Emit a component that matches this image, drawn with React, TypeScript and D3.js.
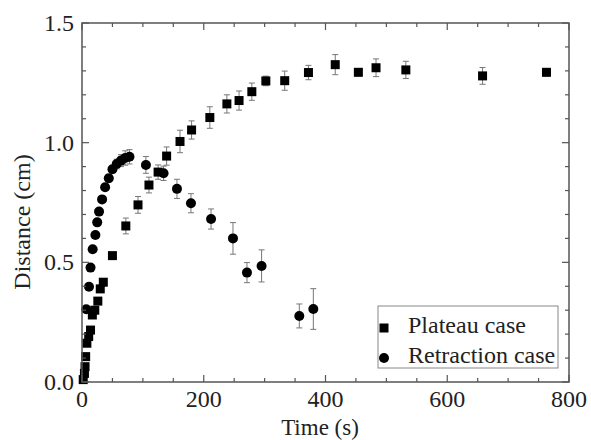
import React from "react";
import * as d3 from "d3";

const plateauTime = [2, 4, 5, 6, 8, 11, 14, 17, 21, 26, 30, 35, 50, 72, 92, 110, 125, 139, 161, 180, 210, 238, 258, 279, 302, 333, 372, 416, 454, 483, 532, 658, 763];
const plateauDist = [0.01, 0.036, 0.064, 0.106, 0.162, 0.19, 0.217, 0.28, 0.30, 0.338, 0.389, 0.417, 0.528, 0.652, 0.74, 0.823, 0.877, 0.944, 1.005, 1.053, 1.105, 1.162, 1.176, 1.213, 1.258, 1.259, 1.293, 1.326, 1.294, 1.313, 1.304, 1.279, 1.294];
const plateauErr = [0.01, 0.01, 0.01, 0.01, 0.01, 0.01, 0.01, 0.01, 0.01, 0.01, 0.015, 0.015, 0.01, 0.033, 0.035, 0.033, 0.03, 0.038, 0.047, 0.038, 0.045, 0.038, 0.04, 0.036, 0.02, 0.04, 0.03, 0.042, 0.015, 0.037, 0.036, 0.035, 0.015];

const retractTime = [7, 11.5, 14, 17.5, 22, 25, 28, 33, 38, 44, 50, 57, 64, 71, 78, 105, 134, 156, 179, 212, 248, 271, 295, 357, 380];
const retractDist = [0.304, 0.398, 0.478, 0.555, 0.614, 0.667, 0.712, 0.763, 0.814, 0.851, 0.889, 0.911, 0.925, 0.936, 0.941, 0.907, 0.872, 0.807, 0.747, 0.681, 0.6, 0.457, 0.485, 0.276, 0.305];
const retractErr = [0.01, 0.01, 0.01, 0.01, 0.01, 0.01, 0.01, 0.01, 0.01, 0.015, 0.015, 0.02, 0.025, 0.03, 0.03, 0.035, 0.03, 0.04, 0.04, 0.042, 0.066, 0.042, 0.067, 0.05, 0.085];

const xMajor = [0, 200, 400, 600, 800];
const yMajor = [0, 0.5, 1.0, 1.5];
const legendLabels = ["Plateau case", "Retraction case"];

const W = 591, H = 440;
const L = 82, R = 569, T = 23, B = 382;
const FONT = "Liberation Serif, Times New Roman, Times, DejaVu Serif, serif";

export default function App() {
  const x = d3.scaleLinear().domain([0, 800]).range([L, R]);
  const y = d3.scaleLinear().domain([0, 1.5]).range([B, T]);
  const xMinor = d3.range(0, 801, 50);
  const yMinor = d3.range(0, 16).map((i) => i / 10);
  const frame = "#555";
  const errColor = "#777";
  const cap = 3;
  const ts = { fontFamily: FONT, fontSize: 24, fill: "#222" } as React.CSSProperties;

  const plateau = plateauTime.map((t, i) => ({ t, d: plateauDist[i], e: plateauErr[i] }));
  const retract = retractTime.map((t, i) => ({ t, d: retractDist[i], e: retractErr[i] }));

  const errBars = (data: { t: number; d: number; e: number }[], key: string) =>
    data.map((p, i) => {
      const cx = x(p.t);
      const y1 = y(p.d + p.e);
      const y2 = y(p.d - p.e);
      return (
        <g key={key + i} stroke={errColor} strokeWidth={1}>
          <line x1={cx} x2={cx} y1={y1} y2={y2} />
          <line x1={cx - cap} x2={cx + cap} y1={y1} y2={y1} />
          <line x1={cx - cap} x2={cx + cap} y1={y2} y2={y2} />
        </g>
      );
    });

  return (
    <svg width={W} height={H} style={{ position: "absolute", left: 0, top: 0, background: "#fff" }}>
      <rect x={0} y={0} width={W} height={H} fill="#fff" />
      {errBars(plateau, "pe")}
      {errBars(retract, "re")}
      {plateau.map((p, i) => (
        <rect key={"p" + i} x={x(p.t) - 4.5} y={y(p.d) - 4.5} width={9} height={9} fill="#000" />
      ))}
      {retract.map((p, i) => (
        <circle key={"c" + i} cx={x(p.t)} cy={y(p.d)} r={5} fill="#000" />
      ))}

      <rect x={L} y={T} width={R - L} height={B - T} fill="none" stroke={frame} strokeWidth={1.5} />
      {xMinor.map((v) => {
        const len = v % 200 === 0 ? 7 : 4;
        return (
          <g key={"xt" + v} stroke={frame} strokeWidth={1.2}>
            <line x1={x(v)} x2={x(v)} y1={B} y2={B - len} />
            <line x1={x(v)} x2={x(v)} y1={T} y2={T + len} />
          </g>
        );
      })}
      {yMinor.map((v, i) => {
        const len = i % 5 === 0 ? 7 : 4;
        return (
          <g key={"yt" + i} stroke={frame} strokeWidth={1.2}>
            <line x1={L} x2={L + len} y1={y(v)} y2={y(v)} />
            <line x1={R} x2={R - len} y1={y(v)} y2={y(v)} />
          </g>
        );
      })}
      {xMajor.map((v) => (
        <text key={"xl" + v} x={x(v)} y={407} textAnchor="middle" style={ts}>
          {v}
        </text>
      ))}
      {yMajor.map((v) => (
        <text key={"yl" + v} x={74} y={y(v) + 8} textAnchor="end" style={ts}>
          {v.toFixed(1)}
        </text>
      ))}
      <text x={320} y={435} textAnchor="middle" style={{ ...ts, fontSize: 23 }}>
        Time (s)
      </text>
      <text transform="translate(30,222) rotate(-90)" textAnchor="middle" style={ts}>
        Distance (cm)
      </text>

      <rect x={378} y={306} width={180} height={62} fill="#fff" stroke="#888" strokeWidth={1} />
      <rect x={384 - 4.5} y={328 - 4.5} width={9} height={9} fill="#000" />
      <circle cx={384} cy={358} r={5} fill="#000" />
      <text x={408} y={333} style={ts}>
        {legendLabels[0]}
      </text>
      <text x={408} y={363} style={ts}>
        {legendLabels[1]}
      </text>
    </svg>
  );
}
